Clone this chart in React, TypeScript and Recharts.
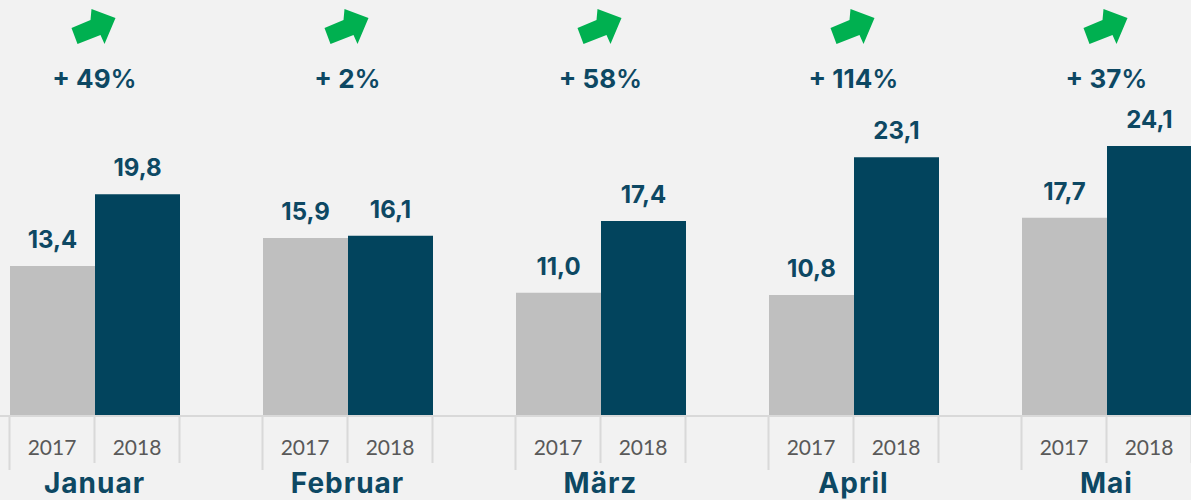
import { BarChart, Bar, XAxis, YAxis, LabelList } from 'recharts';

const months = ['Januar', 'Februar', 'März', 'April', 'Mai'];
const years = ['2017', '2018'];
const values2017 = [13.4, 15.9, 11.0, 10.8, 17.7];
const values2018 = [19.8, 16.1, 17.4, 23.1, 24.1];
const growth = [49, 2, 58, 114, 37];

const data = months.map((month, i) => ({
  month,
  v2017: values2017[i],
  v2018: values2018[i],
  growth: growth[i],
}));

const TEAL = '#0d4863';
const BAR_DARK = '#02445d';
const BAR_GRAY = '#bfbfbf';
const GRID = '#d9d9d9';
const BAR_W = 85;

// arrow outline, relative to the group centre
const arrowShape = [[-23, 1], [-4, -7], [-3, -18], [21, -9], [10, 17], [6, 8], [-17, 17]];

const fmt = (v: number) => v.toFixed(1).replace('.', ',');

const TopTick = (props: any) => {
  const { x, payload } = props;
  const row = data.find((d) => d.month === payload.value);
  const pts = arrowShape.map(([dx, dy]) => `${x + dx},${27 + dy}`).join(' ');
  return (
    <g>
      <polygon points={pts} fill="#00b050" />
      <text x={x} y={88} textAnchor="middle" fill={TEAL} fontFamily="Inter" fontSize={26} fontWeight={700}>
        + {row?.growth}
        <tspan fontWeight={600}>%</tspan>
      </text>
    </g>
  );
};

const BottomTick = (props: any) => {
  const { x, payload } = props;
  return (
    <g>
      <line x1={x - BAR_W} x2={x - BAR_W} y1={416} y2={470} stroke={GRID} strokeWidth={2} />
      <line x1={x} x2={x} y1={416} y2={463} stroke={GRID} strokeWidth={2} />
      <line x1={x + BAR_W} x2={x + BAR_W} y1={416} y2={463} stroke={GRID} strokeWidth={2} />
      {years.map((yr, i) => (
        <text
          key={yr}
          x={x + (i === 0 ? -BAR_W / 2 : BAR_W / 2)}
          y={455}
          textAnchor="middle"
          fill="#595959"
          fontFamily="Lato"
          fontSize={21}
        >
          {yr}
        </text>
      ))}
      <text
        x={x}
        y={493}
        textAnchor="middle"
        fill={TEAL}
        fontFamily="Inter"
        fontSize={28}
        fontWeight={700}
        letterSpacing={1}
      >
        {payload.value}
      </text>
    </g>
  );
};

export default function App() {
  return (
    <div
      style={{
        position: 'fixed',
        left: 0,
        top: 0,
        width: 1191,
        height: 500,
        overflow: 'hidden',
        background: '#f2f2f2',
      }}
    >
      <div style={{ position: 'absolute', left: -32.5, top: 0 }}>
        <BarChart
          width={1265}
          height={500}
          data={data}
          margin={{ top: 0, right: 0, bottom: 0, left: 0 }}
          barGap={0}
          barSize={BAR_W}
        >
          <XAxis
            xAxisId="top"
            orientation="top"
            dataKey="month"
            height={80}
            axisLine={false}
            tickLine={false}
            interval={0}
            tick={<TopTick />}
          />
          <XAxis
            dataKey="month"
            height={84}
            tickLine={false}
            axisLine={{ stroke: GRID, strokeWidth: 2 }}
            interval={0}
            tick={<BottomTick />}
          />
          <YAxis hide domain={[0, 30]} />
          <Bar dataKey="v2017" fill={BAR_GRAY} isAnimationActive={false}>
            <LabelList
              dataKey="v2017"
              position="top"
              offset={18}
              formatter={fmt}
              fill={TEAL}
              fontFamily="Inter"
              fontSize={24}
              fontWeight={700}
            />
          </Bar>
          <Bar dataKey="v2018" fill={BAR_DARK} isAnimationActive={false}>
            <LabelList
              dataKey="v2018"
              position="top"
              offset={18}
              formatter={fmt}
              fill={TEAL}
              fontFamily="Inter"
              fontSize={24}
              fontWeight={700}
            />
          </Bar>
        </BarChart>
      </div>
    </div>
  );
}
